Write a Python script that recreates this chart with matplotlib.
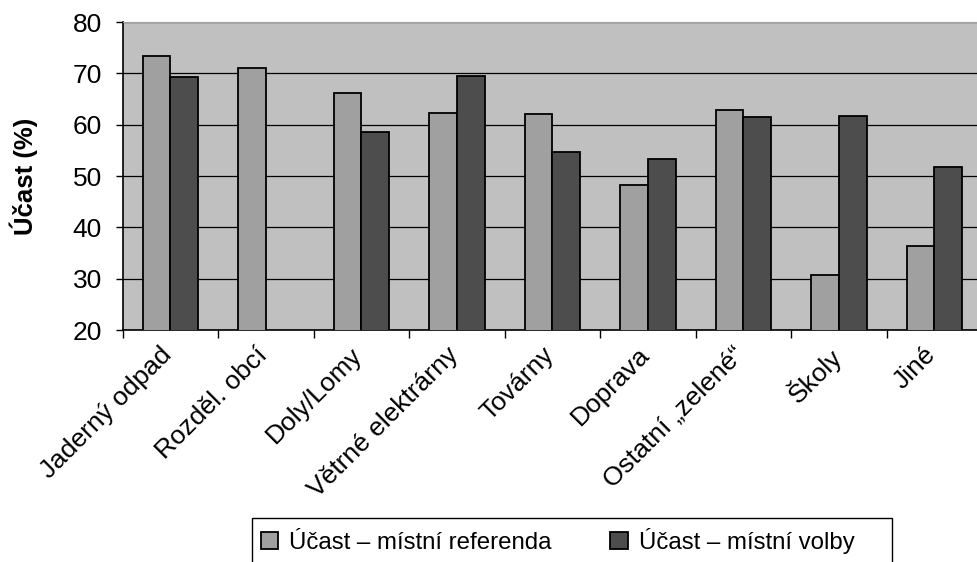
import matplotlib
matplotlib.use("Agg")
import matplotlib.pyplot as plt
import matplotlib.transforms as mtrans
from matplotlib.patches import Rectangle
import numpy as np

plt.rcParams['font.family'] = ['Liberation Sans', 'DejaVu Sans']

kategorie = ["Jaderný odpad", "Rozděl. obcí", "Doly/Lomy", "Větrné elektrárny",
             "Továrny", "Doprava", "Ostatní „zelené“", "Školy", "Jiné"]
referenda = [73.4, 71.1, 66.2, 62.2, 62.0, 48.2, 62.9, 30.8, 36.4]
volby = [69.2, np.nan, 58.6, 69.5, 54.7, 53.4, 61.4, 61.6, 51.8]

W, H = 978, 562
fig = plt.figure(figsize=(W / 100, H / 100), dpi=100)
ax = fig.add_axes([122.7 / W, 1 - 330 / H, 859.5 / W, 308 / H])
ax.set_facecolor("#c0c0c0")

x = np.arange(len(kategorie))
w = 0.29
ax.bar(x - w / 2, referenda, w, bottom=0, color="#a0a0a0", edgecolor="black",
       linewidth=1.3, label="Účast – místní referenda", zorder=3)
ax.bar(x + w / 2, volby, w, bottom=0, color="#4d4d4d", edgecolor="black",
       linewidth=1.3, label="Účast – místní volby", zorder=3)

ax.set_ylim(20, 80)
ax.set_xlim(-0.5, len(kategorie) - 0.5)
ax.set_yticks(range(20, 81, 10))
ax.yaxis.grid(True, color="black", linewidth=0.9, zorder=1)
ax.set_axisbelow(True)

# category ticks sit between groups
ax.set_xticks(x)
ax.set_xticks(np.arange(-0.5, len(kategorie), 1.0), minor=True)
ax.tick_params(axis="x", which="major", length=0, pad=9)
ax.tick_params(axis="x", which="minor", length=6, width=1, color="black")
ax.tick_params(axis="y", length=5, width=1, labelsize=19, pad=10)
ax.set_xticklabels(kategorie, rotation=45, ha="right", rotation_mode="anchor",
                   fontsize=19)
posun = mtrans.ScaledTranslation(-11 / 100, 0, fig.dpi_scale_trans)
for lab in ax.get_xticklabels():
    lab.set_transform(lab.get_transform() + posun)

for s in ("left", "bottom"):
    ax.spines[s].set_color("black")
    ax.spines[s].set_linewidth(1.2)
ax.spines["top"].set_color("#a0a0a0")
ax.spines["right"].set_visible(False)

ax.set_ylabel("Účast (%)", fontsize=18.5, fontweight="bold")
ax.yaxis.set_label_coords(-0.099, 0.5)

# legend: entries plus a plain frame running off the bottom edge
leg = fig.legend(loc="center left", bbox_to_anchor=(261 / W, 1 - 541 / H),
                 ncol=2, fontsize=17.3, frameon=False,
                 handlelength=0.72, handleheight=0.72, handletextpad=0.45,
                 borderaxespad=0, borderpad=0, columnspacing=2.45)
fig.patches.append(Rectangle((251.7 / W, -0.02), (892 - 251.7) / W, 0.02 + 1 - 517.7 / H,
                             transform=fig.transFigure, fill=False,
                             edgecolor="black", linewidth=1.0))

fig.savefig("out.png", dpi=100)
